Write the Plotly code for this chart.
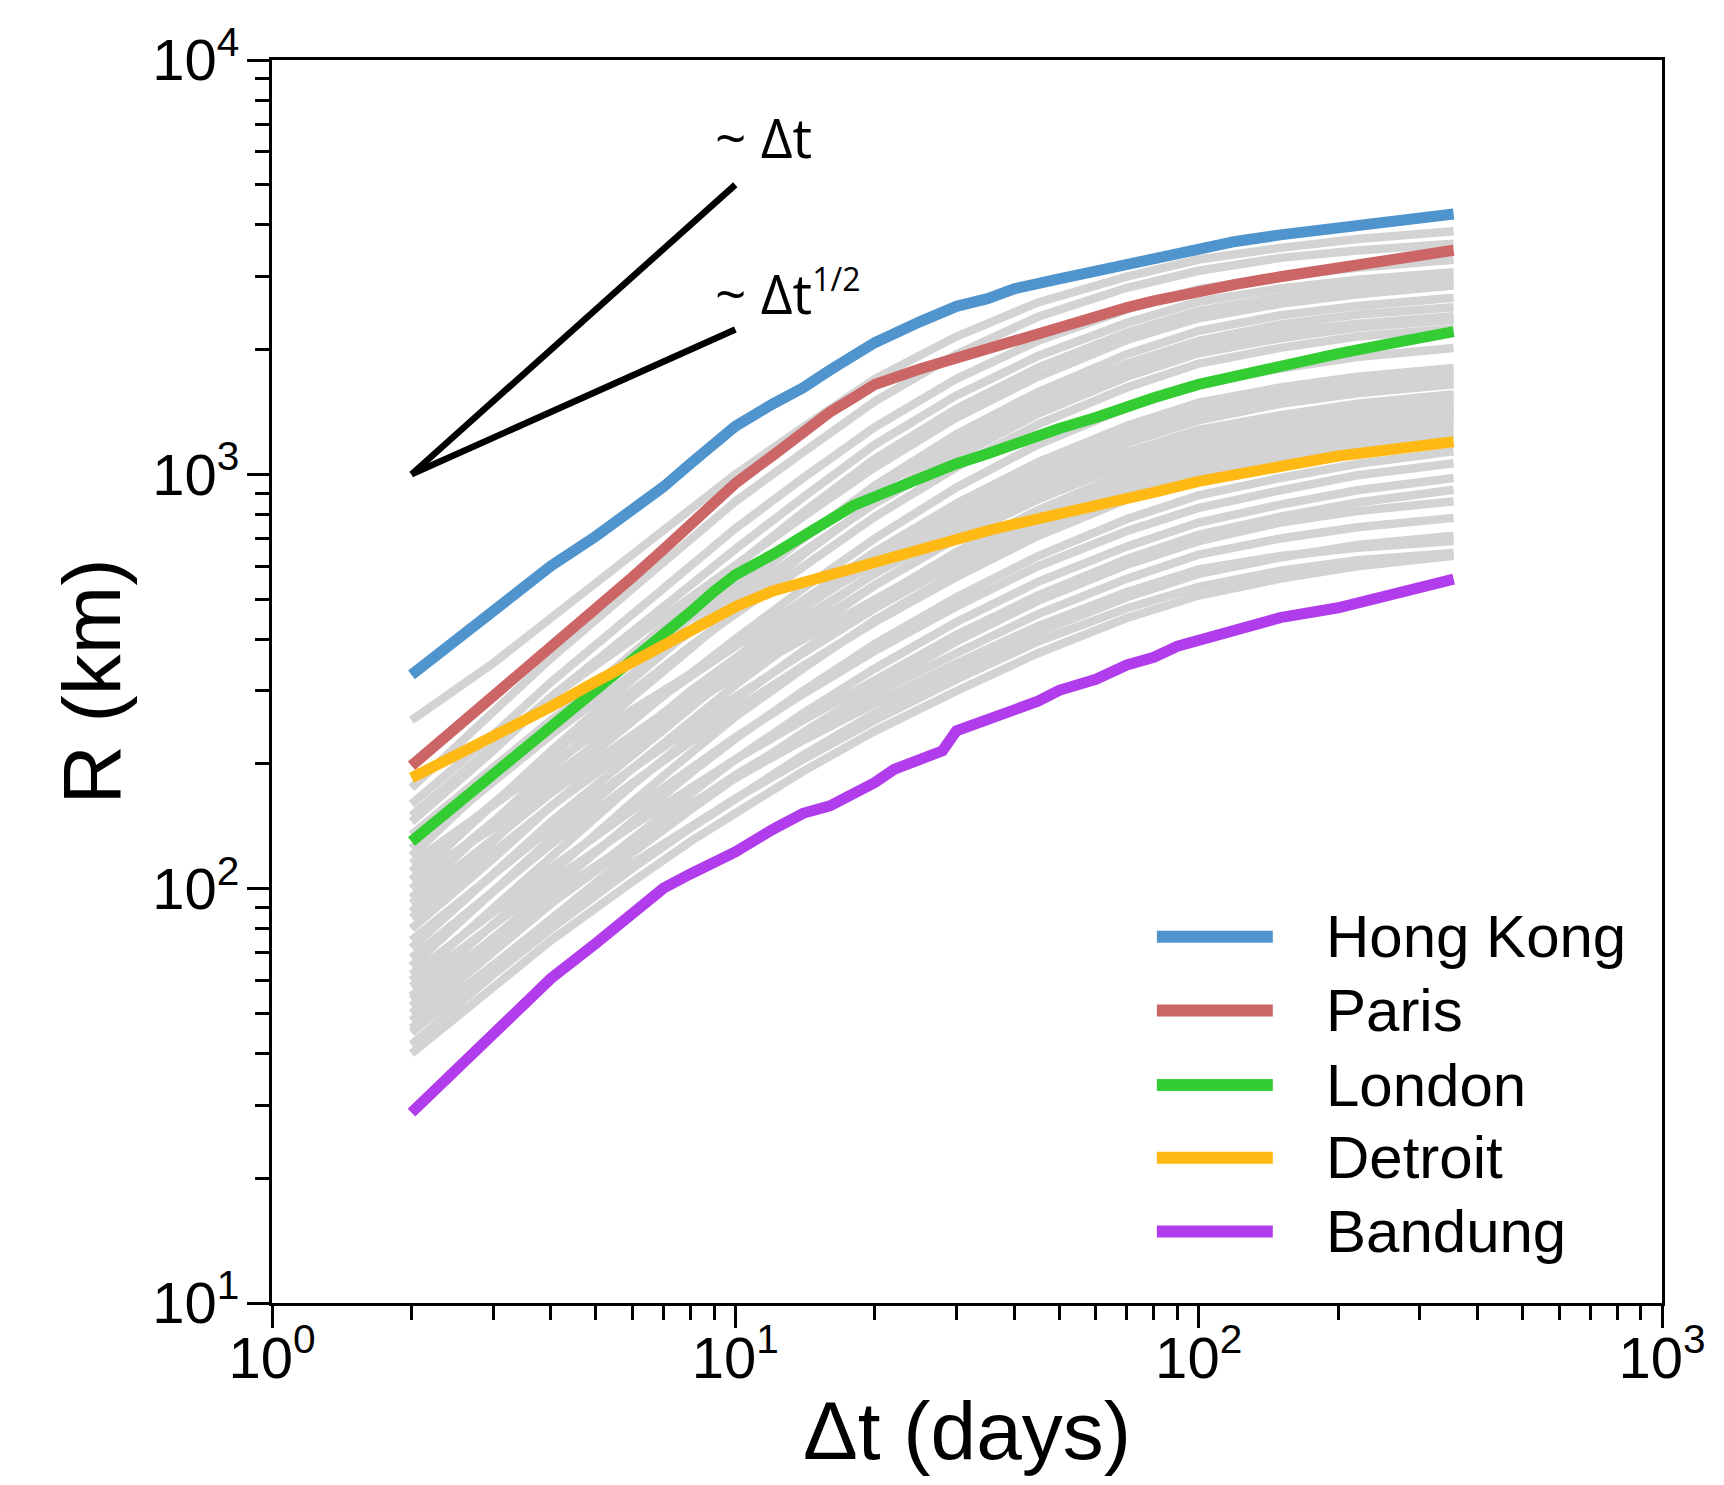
import math
import plotly.graph_objects as go

# ---------------- data ----------------
x_main = [2, 3, 4, 5, 6, 7, 8, 9, 10, 12, 14, 16, 18, 20, 25, 30, 35, 40, 50, 60, 70, 80,
          100, 120, 150, 200, 250, 300, 355]
hong_kong = [328, 468, 601, 709, 816, 933, 1061, 1177, 1306, 1476, 1618, 1784, 1944, 2079,
             2334, 2544, 2655, 2804, 2963, 3093, 3228, 3349, 3517, 3648, 3784, 3950, 4048, 4148, 4249]
paris = [198, 290, 380, 471, 565, 659, 754, 852, 951, 1107, 1275, 1414, 1531, 1648,
         1795, 1908, 2016, 2117, 2278, 2422, 2528, 2623, 2770, 2874, 2999, 3150, 3268, 3370, 3474]
london = [130, 188, 248, 301, 357, 412, 465, 522, 572, 639, 709, 782, 841, 883,
          980, 1061, 1121, 1185, 1290, 1372, 1458, 1531, 1648, 1730, 1828, 1956, 2053, 2130, 2210]
detroit = [185, 232, 275, 316, 353, 387, 416, 451, 479, 522, 548, 576, 601, 620,
           659, 700, 731, 758, 801, 841, 867, 905, 962, 998, 1048, 1107, 1142, 1177, 1199]
x_bandung = [2, 3, 4, 5, 6, 7, 8, 9, 10, 12, 14, 16, 18, 20, 22, 25, 28, 30, 35, 40, 45, 50,
             60, 70, 80, 90, 100, 120, 150, 200, 250, 300, 355]
bandung = [28.8, 44.7, 60.7, 73.8, 87.6, 100.3, 108.5, 115.4, 122.7, 138.7, 152, 158.5, 169.6,
           180.3, 194, 203.7, 215.2, 240.3, 255.4, 266.6, 283.4, 301.2, 320.2, 346.7, 361.8,
           384.7, 396.5, 416.6, 451, 476.4, 506.4, 531.9, 558.5]

city_names = ["Hong Kong", "Paris", "London", "Detroit", "Bandung"]
city_colors = ["#5094CD", "#CC6666", "#33CC33", "#FFB914", "#B03CEB"]

x_gray = [2, 3, 4, 6, 8, 10, 14, 20, 30, 45, 70, 100, 150, 220, 355]
gray_series = [
    [255, 350, 450, 640, 830, 1000, 1300, 1700, 2150, 2600, 3000, 3300, 3520, 3700, 3862],
    [175, 265, 360, 530, 700, 860, 1130, 1500, 1950, 2400, 2820, 3100, 3330, 3470, 3600],
    [160, 235, 315, 460, 600, 740, 980, 1300, 1700, 2100, 2500, 2800, 3000, 3150, 3297],
    [145, 215, 290, 420, 545, 660, 880, 1180, 1550, 1930, 2320, 2610, 2810, 2950, 3074],
    [120, 185, 250, 370, 485, 600, 810, 1090, 1440, 1810, 2200, 2480, 2680, 2820, 2950],
    [150, 220, 290, 400, 505, 610, 790, 1040, 1370, 1720, 2110, 2380, 2580, 2720, 2857],
    [105, 160, 215, 320, 420, 520, 700, 940, 1250, 1580, 1950, 2220, 2420, 2550, 2667],
    [135, 195, 255, 355, 450, 540, 700, 920, 1200, 1520, 1850, 2100, 2300, 2430, 2531],
    [95, 145, 195, 290, 380, 470, 640, 860, 1150, 1450, 1780, 2020, 2200, 2310, 2406],
    [125, 180, 235, 330, 420, 500, 650, 850, 1100, 1400, 1720, 1960, 2130, 2260, 2362],
    [110, 160, 210, 300, 385, 460, 600, 790, 1040, 1320, 1620, 1850, 2020, 2150, 2250],
    [88, 130, 175, 255, 330, 400, 530, 700, 930, 1180, 1450, 1650, 1800, 1920, 2017],
    [100, 145, 185, 260, 325, 385, 500, 650, 850, 1070, 1310, 1490, 1620, 1720, 1806],
    [80, 118, 158, 230, 300, 360, 475, 620, 820, 1030, 1260, 1430, 1570, 1670, 1757],
    [115, 160, 200, 270, 330, 385, 480, 610, 790, 990, 1210, 1380, 1510, 1620, 1710],
    [72, 108, 145, 210, 275, 335, 440, 580, 770, 970, 1190, 1350, 1480, 1570, 1650],
    [92, 132, 170, 235, 295, 350, 450, 575, 740, 930, 1130, 1280, 1390, 1480, 1560],
    [65, 98, 132, 195, 255, 310, 410, 540, 710, 890, 1090, 1240, 1350, 1440, 1515],
    [85, 122, 158, 220, 278, 330, 420, 540, 700, 870, 1060, 1200, 1310, 1400, 1470],
    [60, 90, 120, 178, 232, 285, 375, 495, 650, 820, 1010, 1150, 1260, 1350, 1433],
    [105, 140, 175, 230, 280, 325, 400, 500, 640, 800, 980, 1120, 1230, 1320, 1406],
    [75, 108, 140, 195, 245, 290, 370, 475, 610, 770, 950, 1080, 1190, 1280, 1356],
    [55, 82, 110, 162, 212, 260, 340, 445, 580, 735, 905, 1030, 1140, 1230, 1307],
    [68, 98, 128, 180, 228, 270, 345, 440, 565, 710, 870, 990, 1090, 1180, 1250],
    [52, 76, 100, 145, 190, 230, 300, 390, 505, 635, 780, 890, 980, 1060, 1136],
    [62, 88, 112, 155, 195, 232, 295, 375, 480, 600, 730, 830, 915, 995, 1064],
    [48, 70, 92, 132, 170, 205, 265, 340, 440, 550, 670, 765, 845, 915, 980],
    [58, 82, 104, 142, 176, 205, 255, 320, 410, 510, 625, 715, 790, 855, 918],
    [45, 65, 85, 122, 155, 185, 238, 305, 395, 495, 605, 690, 765, 815, 861],
    [50, 72, 92, 128, 160, 188, 235, 295, 370, 460, 560, 640, 700, 745, 785],
    [42, 62, 80, 112, 140, 165, 210, 265, 335, 415, 505, 575, 630, 675, 711],
    [46, 66, 84, 115, 142, 165, 205, 255, 320, 395, 475, 535, 585, 620, 646],
    [40, 58, 75, 104, 130, 152, 192, 240, 300, 370, 450, 510, 560, 600, 636],
    [54, 76, 96, 130, 160, 185, 228, 280, 350, 430, 520, 590, 635, 665, 690],
]

# reference slopes
ref_x = [2, 10]
ref_linear = [1000, 5000]
ref_sqrt = [1000, 2236]
ref_labels = ["~ Δt", "~ Δt<sup><span style='font-size:32px'>1/2</span></sup>"]
ref_label_x = [8.95, 8.95]
ref_label_y = [6537, 2746]

x_tickvals = [1, 10, 100, 1000]
x_ticktext = ["10<sup>0</sup>", "10<sup>1</sup>", "10<sup>2</sup>", "10<sup>3</sup>"]
y_tickvals = [10, 100, 1000, 10000]
y_ticktext = ["10<sup>1</sup>", "10<sup>2</sup>", "10<sup>3</sup>", "10<sup>4</sup>"]
minor_vals = [m * d for d in [1, 10, 100, 1000] for m in range(2, 10)]

# ---------------- figure ----------------
fig = go.Figure()
for s in gray_series:
    fig.add_trace(go.Scatter(x=x_gray, y=s, mode="lines",
                             line=dict(color="#D3D3D3", width=8.5),
                             showlegend=False, hoverinfo="skip"))

city_x = [x_main, x_main, x_main, x_main, x_bandung]
city_y = [hong_kong, paris, london, detroit, bandung]
for name, col, xs, ys in zip(city_names, city_colors, city_x, city_y):
    fig.add_trace(go.Scatter(x=xs, y=ys, mode="lines", name=name,
                             line=dict(color=col, width=11), showlegend=False))

for ys in [ref_linear, ref_sqrt]:
    fig.add_trace(go.Scatter(x=ref_x, y=ys, mode="lines",
                             line=dict(color="black", width=6.5), showlegend=False))

for txt, lx, ly in zip(ref_labels, ref_label_x, ref_label_y):
    fig.add_annotation(x=math.log10(lx), y=math.log10(ly), text=txt, showarrow=False,
                       xanchor="left", yanchor="middle",
                       font=dict(family="Open Sans", size=55, color="black"))

# custom legend (long line samples)
leg_y = [0.2947, 0.2354, 0.1753, 0.1168, 0.0576]
for name, col, ly in zip(city_names, city_colors, leg_y):
    fig.add_shape(type="line", xref="paper", yref="paper", x0=0.6366, x1=0.72, y0=ly, y1=ly,
                  line=dict(color=col, width=12))
    fig.add_annotation(xref="paper", yref="paper", x=0.757, y=ly, text=name, showarrow=False,
                       xanchor="left", yanchor="middle",
                       font=dict(family="Liberation Sans, Arial", size=60, color="black"))

tick_font = dict(family="Liberation Sans, Arial", size=58, color="black")
title_font = dict(family="Liberation Sans, Arial", size=82, color="black")

fig.update_xaxes(type="log", range=[0, 3], showline=True, linecolor="black", linewidth=3,
                 mirror=True, showgrid=False, zeroline=False,
                 ticks="outside", ticklen=22, tickwidth=2.5, tickcolor="black",
                 tickvals=x_tickvals, ticktext=x_ticktext, tickfont=tick_font,
                 ticklabelstandoff=-20,
                 minor=dict(tickvals=minor_vals, ticks="outside", ticklen=14, tickwidth=2.5,
                            tickcolor="black", showgrid=False),
                 title=dict(text="Δt (days)", font=title_font, standoff=14))
fig.update_yaxes(type="log", range=[1, 4], showline=True, linecolor="black", linewidth=3,
                 mirror=True, showgrid=False, zeroline=False,
                 ticks="outside", ticklen=22, tickwidth=2.5, tickcolor="black",
                 tickvals=y_tickvals, ticktext=y_ticktext, tickfont=tick_font,
                 ticklabelstandoff=-4,
                 minor=dict(tickvals=minor_vals, ticks="outside", ticklen=14, tickwidth=2.5,
                            tickcolor="black", showgrid=False),
                 title=dict(text="R (km)", font=title_font, standoff=5))

fig.update_layout(width=1716, height=1477, plot_bgcolor="white", paper_bgcolor="white",
                  margin=dict(l=264, r=62, t=52, b=182), showlegend=False)

fig.write_html("out.html")
